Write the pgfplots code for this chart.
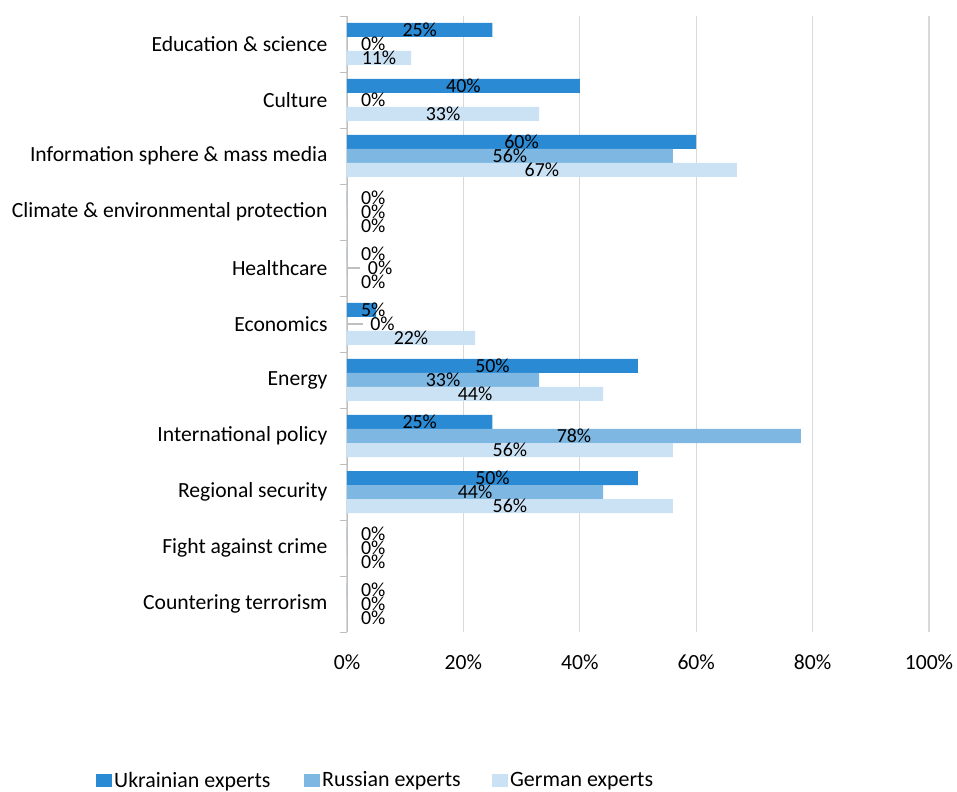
\documentclass[border=0pt]{standalone}
\usepackage{fontspec}
\setmainfont{Carlito}
\usepackage{pgfplots}
\pgfplotsset{compat=1.18}
\usepackage{pgfplotstable}

\definecolor{ukr}{HTML}{2A8AD4}
\definecolor{rus}{HTML}{7EB8E2}
\definecolor{ger}{HTML}{CBE2F4}
\definecolor{gridgray}{HTML}{D9D9D9}
\definecolor{axgray}{HTML}{BFBFBF}

\pgfplotsset{/pgf/number format/assume math mode=true}

% pos: 10 = top row; RL = where the Russian label sits
\pgfplotstableread{
pos U R G RL
10 25 0 11 4.5
9 40 0 33 4.5
8 60 56 67 28
7 0 0 0 4.5
6 0 0 0 5.7
5 5 0 22 6.1
4 50 33 44 16.5
3 25 78 56 39
2 50 44 56 22
1 0 0 0 4.5
0 0 0 0 4.5
}\data

\begin{document}
\begin{tikzpicture}
\begin{axis}[
  scale only axis,
  width=582bp, height=616bp,
  xmin=0, xmax=100, ymin=-0.5, ymax=10.5,
  font=\fontsize{21.7}{25}\selectfont,
  axis lines*=left,
  x axis line style={draw=none},
  y axis line style={draw=axgray},
  xtick={0,20,...,100},
  xticklabel={\pgfmathprintnumber{\tick}\%},
  xticklabel style={yshift=-19bp},
  xmajorgrids,
  grid style={gridgray, line width=1.4pt},
  major x tick style={draw=none},
  ytick={0,...,10},
  yticklabels={Countering terrorism, Fight against crime, Regional security,
    International policy, Energy, Economics, Healthcare,
    {Climate \& environmental protection}, {Information sphere \& mass media},
    Culture, {Education \& science}},
  major y tick style={draw=none},
  minor ytick={-0.5,0.5,...,10.5},
  minor tick length=7bp,
  major tick length=0pt,
  tick align=outside,
  minor y tick style={axgray},
  yticklabel style={xshift=-16bp},
  legend columns=3,
  legend cell align=left,
  legend image code/.code={\fill[#1] (0bp,-6.5bp) rectangle (16bp,6.5bp);},
  legend style={at={(-0.4364,-0.2405)}, anchor=west, draw=none,
    font=\fontsize{22}{25}\selectfont},
  every node near coord/.append style={font=\fontsize{20}{24}\selectfont, inner sep=0pt},
]
\addplot[xbar, bar width=14bp, bar shift=14bp, fill=ukr, draw=none] table[x=U, y=pos] {\data};
\addlegendentry{\makebox[188bp][l]{Ukrainian experts}}
\addplot[xbar, bar width=14bp, bar shift=0bp, fill=rus, draw=none] table[x=R, y=pos] {\data};
\addlegendentry{\makebox[168bp][l]{Russian experts}}
\addplot[xbar, bar width=14bp, bar shift=-14bp, fill=ger, draw=none] table[x=G, y=pos] {\data};
\addlegendentry{German experts}

% leader lines of the two shifted labels
\addplot[axgray, line width=1.2pt, forget plot] coordinates {(0,6) (2.2,6)};
\addplot[axgray, line width=1.2pt, forget plot] coordinates {(0,5) (2.8,5)};

% data labels centred in the bars
\addplot[draw=none, mark=none, forget plot, point meta=explicit,
  nodes near coords={\pgfmathprintnumber{\pgfplotspointmeta}\%},
  nodes near coords style={anchor=center, yshift=14bp}]
  table[x expr={max(\thisrow{U}/2,4.5)}, y=pos, meta=U] {\data};
\addplot[draw=none, mark=none, forget plot, point meta=explicit,
  nodes near coords={\pgfmathprintnumber{\pgfplotspointmeta}\%},
  nodes near coords style={anchor=center}]
  table[x=RL, y=pos, meta=R] {\data};
\addplot[draw=none, mark=none, forget plot, point meta=explicit,
  nodes near coords={\pgfmathprintnumber{\pgfplotspointmeta}\%},
  nodes near coords style={anchor=center, yshift=-14bp}]
  table[x expr={max(\thisrow{G}/2,4.5)}, y=pos, meta=G] {\data};
\end{axis}
\pgfresetboundingbox
\useasboundingbox (-347bp,-160bp) rectangle (610bp,632bp);
\end{tikzpicture}
\end{document}
